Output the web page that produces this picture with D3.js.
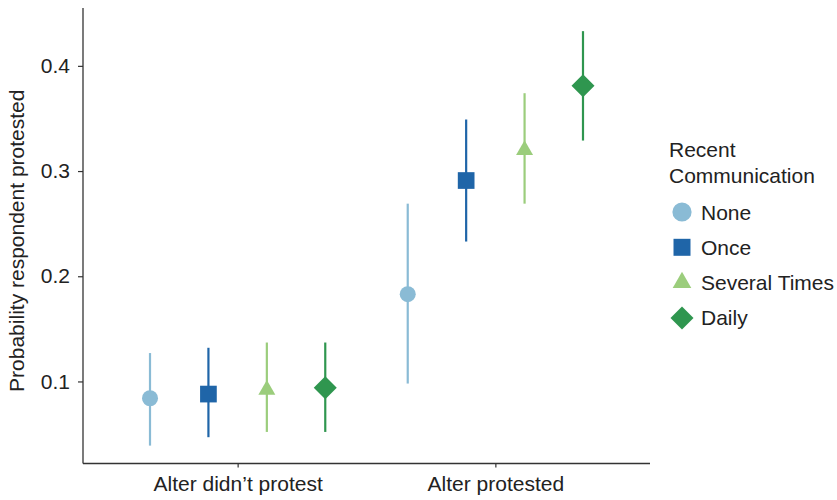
<!DOCTYPE html>
<html><head><meta charset="utf-8">
<script src="https://cdn.jsdelivr.net/npm/d3@7"></script>
<style>body{margin:0;background:#fff;} text{font-family:"Liberation Sans",Arial,Helvetica,sans-serif;}</style>
</head><body><svg id="c" width="837" height="500"></svg>
<script>
const groups = ["Alter didn’t protest", "Alter protested"];
const series = ["None", "Once", "Several Times", "Daily"];
const colors = ["#8abbd5", "#1f65a8", "#9bcd7c", "#2f964f"];
const estimate = [[0.084, 0.088, 0.092, 0.094], [0.183, 0.291, 0.320, 0.381]];
const lower = [[0.039, 0.047, 0.052, 0.052], [0.098, 0.233, 0.269, 0.329]];
const upper = [[0.127, 0.132, 0.137, 0.137], [0.269, 0.349, 0.374, 0.433]];
const yTicks = [0.1, 0.2, 0.3, 0.4];
const legendTitle = ["Recent", "Communication"];
const yTitle = "Probability respondent protested";

const svg = d3.select("#c");
const L = 83, R = 650, T = 8, B = 463.5;
const FS = 21;
// ggplot expansion: 0.6 units each side
const xi = d3.scaleLinear().domain([0.4, 2.6]).range([L, R]);
const y = d3.scaleLinear().domain([0.022, 0.455]).range([B, T]);
const dodge = d3.scaleLinear().domain([0, 3]).range([-0.34, 0.34]);

const shapes = [d3.symbolCircle, d3.symbolSquare, d3.symbolTriangle, d3.symbolSquare];
const sizes = [201, 279, 125, 265];
const rot = [0, 0, 0, 45];

// axes
const yAxis = d3.axisLeft(y).tickValues(yTicks).tickSize(5).tickPadding(8).tickFormat(d3.format(".1f"));
const gy = svg.append("g").attr("transform", `translate(${L},0)`).call(yAxis);
gy.select(".domain").remove();
svg.append("line").attr("x1", L).attr("x2", L).attr("y1", T).attr("y2", B).attr("stroke", "#333").attr("stroke-width", 1.3);
gy.selectAll("line").attr("stroke", "#333").attr("stroke-width", 1.2);
gy.selectAll("text").attr("font-size", FS).attr("fill", "#222").style("font-family", "Liberation Sans, Arial, sans-serif");

const xAxis = d3.axisBottom(d3.scalePoint().domain(groups).range([xi(1), xi(2)])).tickSize(4).tickPadding(9);
const gx = svg.append("g").attr("transform", `translate(0,${B})`).call(xAxis);
gx.select(".domain").remove();
svg.append("line").attr("x1", L).attr("x2", R).attr("y1", B).attr("y2", B).attr("stroke", "#333").attr("stroke-width", 1.3);
gx.selectAll("line").attr("stroke", "#333").attr("stroke-width", 1.2);
gx.selectAll("text").attr("font-size", FS).attr("fill", "#222").style("font-family", "Liberation Sans, Arial, sans-serif");

svg.append("text").attr("transform", `translate(24,${(T + B) / 2 + 5}) rotate(-90)`)
  .attr("text-anchor", "middle").attr("font-size", FS).attr("fill", "#222").text(yTitle);

// marks
groups.forEach((g, gi) => {
  series.forEach((s, si) => {
    const cx = xi(gi + 1 + dodge(si));
    svg.append("line").attr("x1", cx).attr("x2", cx)
      .attr("y1", y(lower[gi][si])).attr("y2", y(upper[gi][si]))
      .attr("stroke", colors[si]).attr("stroke-width", 2.2);
    svg.append("path").attr("d", d3.symbol().type(shapes[si]).size(sizes[si])())
      .attr("transform", `translate(${cx},${y(estimate[gi][si])}) rotate(${rot[si]})`)
      .attr("fill", colors[si]);
  });
});

// legend
const lg = svg.append("g");
legendTitle.forEach((t, i) => lg.append("text").attr("x", 669).attr("y", 157 + i * 26)
  .attr("font-size", FS).attr("fill", "#222").text(t));
const lSizes = [290, 289, 150, 265];
series.forEach((s, si) => {
  const cy = 212 + si * 35.3;
  lg.append("path").attr("d", d3.symbol().type(shapes[si]).size(lSizes[si])())
    .attr("transform", `translate(682,${cy}) rotate(${rot[si]})`).attr("fill", colors[si]);
  lg.append("text").attr("x", 701).attr("y", cy).attr("dy", "0.36em")
    .attr("font-size", FS).attr("fill", "#222").text(s);
});
</script></body></html>
